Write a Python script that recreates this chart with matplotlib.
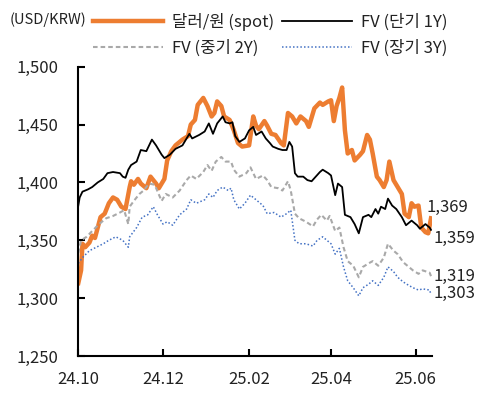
import matplotlib
matplotlib.use('Agg')
import matplotlib.pyplot as plt
import matplotlib.ticker as mticker
import pandas as pd

plt.rcParams['font.family'] = ['Noto Sans CJK KR', 'DejaVu Sans']

# ---- data (days counted from 2024-10-01) ----
base_date = pd.Timestamp('2024-10-01')

spot_days = [0, 2, 3, 5, 8, 10, 12, 14, 16, 19, 22, 25, 28, 31, 34, 37, 38, 40, 43, 45,
             49, 52, 56, 58, 62, 64, 67, 70, 75, 79, 81, 84, 86, 90, 93, 96, 98, 100, 103, 105,
             109, 112, 115, 118, 123, 126, 128, 130, 134, 136, 139, 142, 146, 148, 151, 154, 157, 160, 164, 166,
             170, 174, 176, 180, 182, 184, 186, 188, 190, 192, 194, 197, 199, 203, 205, 208, 210, 212, 215, 217,
             220, 222, 224, 227, 230, 233, 235, 238, 240, 242, 245, 247, 250, 252, 254]
spot = [1313, 1324, 1347, 1344, 1348, 1354, 1352, 1361, 1370, 1373, 1382, 1387, 1385, 1379, 1377, 1396, 1401, 1398, 1403, 1399,
        1395, 1405, 1399, 1395, 1403, 1419, 1427, 1432, 1437, 1440, 1450, 1454, 1467, 1473, 1466, 1457, 1460, 1470, 1466, 1457,
        1454, 1445, 1434, 1431, 1432, 1457, 1449, 1446, 1453, 1449, 1442, 1441, 1434, 1432, 1460, 1457, 1451, 1457, 1453, 1448,
        1464, 1469, 1467, 1470, 1471, 1453, 1466, 1473, 1482, 1445, 1425, 1428, 1419, 1424, 1427, 1441, 1437, 1425, 1405, 1402,
        1396, 1402, 1418, 1402, 1396, 1390, 1373, 1370, 1382, 1379, 1380, 1361, 1357, 1356, 1369]

fv1_days = [0, 1, 3, 7, 10, 14, 18, 21, 25, 30, 32, 34, 36, 38, 42, 45, 49, 53, 56, 60,
            62, 66, 70, 75, 80, 82, 87, 91, 94, 97, 100, 104, 106, 109, 111, 113, 116, 120, 123, 126,
            128, 132, 135, 138, 140, 144, 147, 150, 152, 154, 156, 158, 162, 165, 168, 171, 174, 176, 180, 182,
            185, 187, 190, 192, 196, 199, 202, 205, 209, 211, 214, 216, 218, 221, 223, 226, 229, 233, 236, 240,
            244, 246, 250, 253, 254]
fv1 = [1380, 1387, 1392, 1394, 1396, 1400, 1403, 1408, 1409, 1408, 1405, 1404, 1411, 1415, 1418, 1428, 1427, 1437, 1432, 1424,
       1421, 1424, 1429, 1432, 1442, 1438, 1441, 1444, 1451, 1442, 1451, 1457, 1452, 1451, 1452, 1440, 1435, 1438, 1445, 1448,
       1441, 1444, 1438, 1434, 1431, 1429, 1428, 1428, 1435, 1431, 1408, 1405, 1405, 1402, 1401, 1405, 1409, 1411, 1408, 1406,
       1389, 1399, 1396, 1372, 1370, 1364, 1356, 1370, 1372, 1370, 1377, 1373, 1379, 1377, 1386, 1380, 1377, 1370, 1363, 1367,
       1363, 1360, 1364, 1361, 1359]

fv2_days = [0, 2, 6, 10, 15, 20, 25, 30, 33, 36, 37, 40, 44, 47, 51, 55, 60, 63, 68, 73,
            78, 81, 85, 90, 93, 96, 99, 103, 106, 110, 112, 116, 121, 124, 128, 133, 136, 139, 144, 147,
            151, 153, 156, 159, 164, 169, 172, 175, 179, 181, 185, 188, 191, 194, 198, 202, 205, 209, 212, 216,
            220, 223, 227, 230, 234, 238, 241, 245, 248, 253, 254]
fv2 = [1339, 1350, 1353, 1358, 1364, 1369, 1371, 1374, 1376, 1364, 1379, 1384, 1390, 1393, 1399, 1398, 1384, 1390, 1387, 1393,
       1402, 1406, 1403, 1409, 1415, 1410, 1418, 1422, 1418, 1418, 1411, 1405, 1408, 1413, 1403, 1406, 1402, 1396, 1395, 1393,
       1401, 1393, 1373, 1369, 1366, 1362, 1368, 1372, 1367, 1371, 1358, 1361, 1344, 1332, 1328, 1318, 1327, 1330, 1332, 1328,
       1335, 1347, 1341, 1338, 1331, 1327, 1324, 1321, 1324, 1322, 1319]

fv3_days = [0, 3, 8, 13, 18, 22, 27, 32, 36, 37, 42, 46, 50, 54, 57, 61, 64, 68, 73, 78,
            81, 85, 91, 94, 97, 100, 104, 108, 110, 112, 116, 120, 124, 128, 133, 136, 141, 146, 150, 153,
            156, 159, 164, 169, 172, 176, 180, 182, 185, 188, 191, 194, 198, 202, 205, 209, 212, 216, 220, 223,
            227, 230, 234, 238, 241, 245, 248, 253, 254]
fv3 = [1330, 1335, 1341, 1344, 1347, 1350, 1353, 1350, 1344, 1353, 1361, 1370, 1372, 1379, 1372, 1364, 1366, 1363, 1372, 1377,
       1385, 1382, 1385, 1390, 1387, 1393, 1396, 1393, 1395, 1385, 1377, 1382, 1389, 1385, 1380, 1373, 1374, 1370, 1373, 1376,
       1350, 1347, 1347, 1345, 1350, 1353, 1349, 1347, 1338, 1343, 1327, 1315, 1309, 1302, 1309, 1312, 1315, 1311, 1318, 1327,
       1323, 1318, 1314, 1311, 1309, 1307, 1308, 1307, 1303]

labels = ['달러/원 (spot)', 'FV (단기 1Y)', 'FV (중기 2Y)', 'FV (장기 3Y)']
end_labels = ['1,369', '1,359', '1,319', '1,303']
xtick_dates = ['2024-10-01', '2024-12-01', '2025-02-01', '2025-04-01', '2025-06-01']
xtick_labels = ['24.10', '24.12', '25.02', '25.04', '25.06']
yticks = [1250, 1300, 1350, 1400, 1450, 1500]
unit_label = '(USD/KRW)'


def to_dates(days):
    return base_date + pd.to_timedelta(days, unit='D')


W, H = 490, 398
fig = plt.figure(figsize=(W / 100, H / 100), dpi=100)
ax = fig.add_axes([78.3 / W, 42 / H, (431.7 - 78.3) / W, (356 - 66.7) / H])

l_spot, = ax.plot(to_dates(spot_days), spot, color='#ED7D31', lw=3.2,
                  solid_joinstyle='round', label=labels[0])
l_1, = ax.plot(to_dates(fv1_days), fv1, color='black', lw=1.3, label=labels[1])
l_2, = ax.plot(to_dates(fv2_days), fv2, color='#A9A9A9', lw=1.5,
               dashes=(2.2, 1.45), label=labels[2])
l_3, = ax.plot(to_dates(fv3_days), fv3, color='#4472C4', lw=1.1,
               dashes=(1.0, 1.4), label=labels[3])

ax.set_ylim(1250, 1500)
ax.set_xlim(base_date, base_date + pd.Timedelta(days=254.5))
ax.set_yticks(yticks)
ax.yaxis.set_major_formatter(mticker.FuncFormatter(lambda v, p: f'{int(v):,}'))
ax.set_xticks(pd.to_datetime(xtick_dates))
ax.set_xticklabels(xtick_labels)

for s in ['top', 'right']:
    ax.spines[s].set_visible(False)
for s in ['left', 'bottom']:
    ax.spines[s].set_linewidth(1.5)
    ax.spines[s].set_color('black')

ax.tick_params(axis='both', direction='in', length=5, width=1.5, labelsize=12,
               colors='black', labelcolor='#222222')
ax.tick_params(axis='y', pad=14)
ax.tick_params(axis='x', pad=10.5)

# end labels
series = [(spot_days, spot), (fv1_days, fv1), (fv2_days, fv2), (fv3_days, fv3)]
offsets = [(-5, 11), (2, -9), (2, 0), (2, 1)]
for (d, v), txt, off in zip(series, end_labels, offsets):
    ax.annotate(txt, xy=(to_dates([d[-1]])[0], v[-1]), xytext=off,
                textcoords='offset pixels', ha='left', va='center',
                fontsize=12, color='#222222', annotation_clip=False)

fig.text(10 / W, 1 - 20 / H, unit_label, fontsize=10.5, ha='left', va='center',
         color='#222222')

leg = fig.legend([l_spot, l_2, l_1, l_3], [labels[0], labels[2], labels[1], labels[3]],
                 ncol=2, loc='upper left', bbox_to_anchor=(93 / W, 1 - 13 / H),
                 frameon=False, fontsize=12, handlelength=4.2, handletextpad=0.55,
                 columnspacing=0.45, labelspacing=0.5, borderpad=0, borderaxespad=0)
for t in leg.get_texts():
    t.set_color('#222222')

fig.savefig('out.png', dpi=100)
